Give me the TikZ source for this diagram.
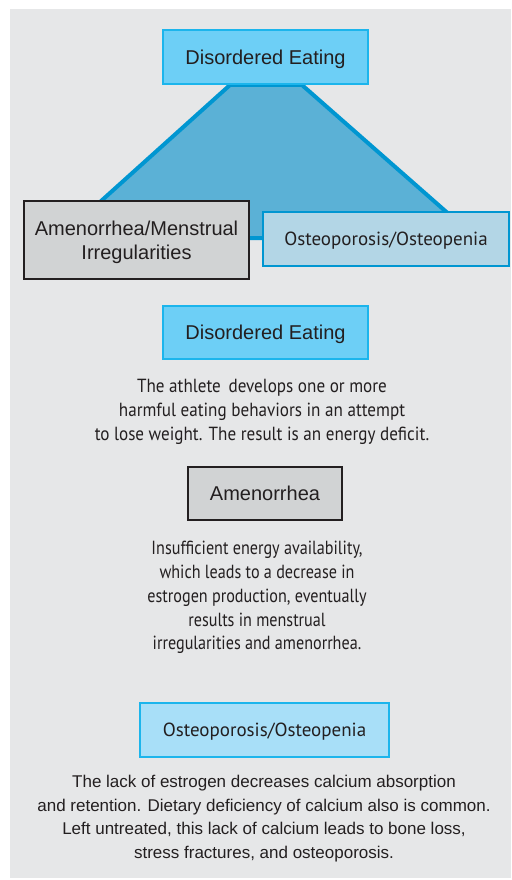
\documentclass[tikz,border=0pt]{standalone}
\usepackage{fontspec}
\setmainfont{Liberation Sans}
\newfontfamily\myr{PT Sans}
\newfontfamily\myrc[FakeStretch=0.9]{PT Sans}
\newfontfamily\myrcc[FakeStretch=0.85]{PT Sans}
\definecolor{bg}{HTML}{E6E7E8}
\definecolor{txt}{HTML}{231F20}
\definecolor{cyanfill}{HTML}{6DCFF6}
\definecolor{cyanline}{HTML}{1CB5EC}
\definecolor{trifill}{HTML}{5BB1D6}
\definecolor{triline}{HTML}{0096D1}
\definecolor{grayfill}{HTML}{D1D3D4}
\definecolor{steelfill}{HTML}{B3D6E6}
\definecolor{paleblue}{HTML}{A8DFF8}
\tikzset{
  boxbase/.style={rectangle, line width=2.5pt, text=txt, inner sep=0pt, align=center, text depth=0pt},
  bluebox/.style={boxbase, fill=cyanfill, draw=cyanline, font=\fontsize{20}{24}\selectfont},
  graybox/.style={boxbase, fill=grayfill, draw=txt, font=\fontsize{20}{24}\selectfont},
  steelbox/.style={boxbase, fill=steelfill, draw=triline, font=\myr\fontsize{19}{24}\selectfont},
  paleboxst/.style={boxbase, fill=paleblue, draw=cyanline, font=\myr\fontsize{19}{24}\selectfont},
  paracond/.style={text=txt, inner sep=0pt, align=center, anchor=north, font=\myrc\fontsize{19}{24}\selectfont},
  paracondb/.style={paracond, font=\myrcc\fontsize{19}{23.8}\selectfont},
  parasans/.style={text=txt, inner sep=0pt, align=center, anchor=north, font=\fontsize{17}{23.5}\selectfont},
}
\begin{document}
\begin{tikzpicture}[x=1pt,y=-1pt]
\useasboundingbox (0,0) rectangle (511,880);
\fill[bg] (10,9) rectangle (511,878);
% triangle
\coordinate (tl) at (230,85);
\coordinate (tr) at (302,85);
\coordinate (br) at (476,238);
\coordinate (bl) at (60,238);
\filldraw[fill=trifill, draw=triline, line width=4pt, line join=miter] (tl) -- (tr) -- (br) -- (bl) -- cycle;
% top triad
\node[bluebox, minimum width=205, minimum height=54] (de1) at (265.5,57) {Disordered Eating};
\node[graybox, minimum width=225, minimum height=78] (am1) at (136.5,240) {Amenorrhea/Menstrual\\Irregularities};
\node[steelbox, minimum width=246, minimum height=54] (os1) at (386,239) {Osteoporosis/Osteopenia};
% descriptions
\node[bluebox, minimum width=205, minimum height=53] (de2) at (265.5,332.5) {Disordered Eating};
\node[paracond] (p1) at (262,379) {The athlete\, develops one or more\\harmful eating behaviors in an attempt\\to lose weight. The result is an energy deficit.};
\node[graybox, minimum width=154, minimum height=53] (am2) at (265,493.5) {Amenorrhea};
\node[paracondb] (p2) at (257,541) {Insufficient energy availability,\\which leads to a decrease in\\estrogen production, eventually\\results in menstrual\\irregularities and amenorrhea.};
\node[paleboxst, minimum width=249, minimum height=54] (os2) at (264.5,730) {Osteoporosis/Osteopenia};
\node[parasans] (p3) at (264,775) {The lack of estrogen decreases calcium absorption\\and retention. Dietary deficiency of calcium also is common.\\Left untreated, this lack of calcium leads to bone loss,\\stress fractures, and osteoporosis.};
\end{tikzpicture}
\end{document}
